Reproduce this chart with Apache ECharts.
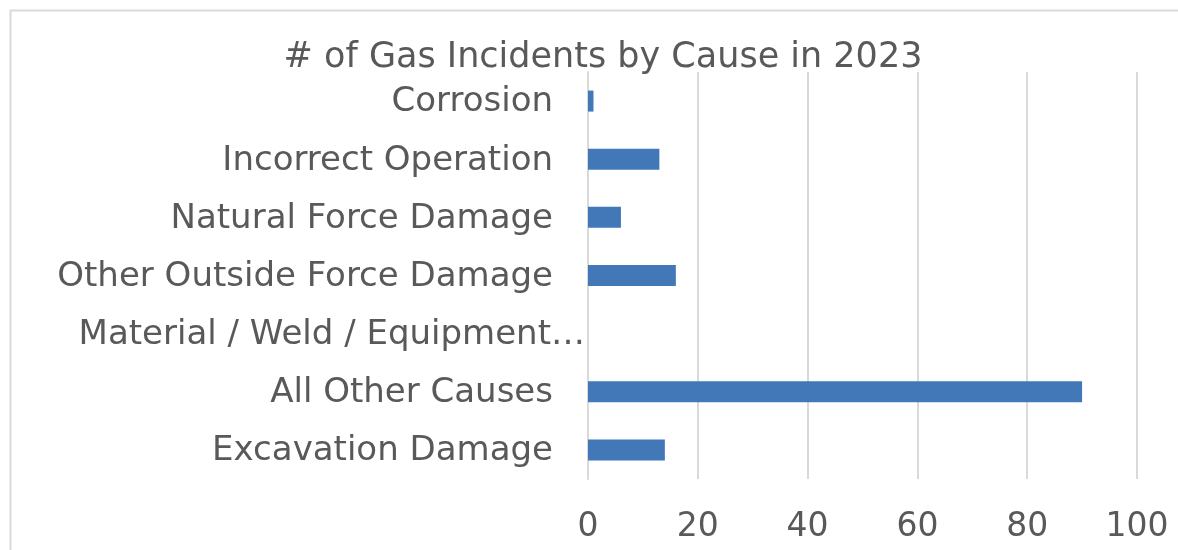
<!DOCTYPE html>
<html>
<head>
<meta charset="utf-8">
<script src="https://cdn.jsdelivr.net/npm/echarts@6/dist/echarts.min.js"></script>
<style>html,body{margin:0;padding:0;background:#fff}#c{width:1178px;height:550px}</style>
</head>
<body>
<div id="c"></div>
<script>
var categories = ["Excavation Damage", "All Other Causes", "Material / Weld / Equipment Failure", "Other Outside Force Damage", "Natural Force Damage", "Incorrect Operation", "Corrosion"];
var incidents = [14, 90, 0, 16, 6, 13, 1];
var xTicks = [0, 20, 40, 60, 80, 100];

var FONT = "DejaVu Sans";
var chart = echarts.init(document.getElementById('c'));
chart.setOption({
  animation: false,
  backgroundColor: '#ffffff',
  graphic: [{
    type: 'rect', left: 8, top: 8, z: -1,
    shape: {width: 1300, height: 700},
    style: {fill: 'none', stroke: '#d9d9d9', lineWidth: 2}
  }],
  title: {
    text: '# of Gas Incidents by Cause in 2023',
    left: 598, top: 35, textAlign: 'center',
    textStyle: {fontFamily: FONT, fontSize: 35, fontWeight: 'normal', color: '#595959'}
  },
  grid: {left: 588, right: 41, top: 72, bottom: 71, containLabel: false},
  xAxis: {
    type: 'value', min: xTicks[0], max: xTicks[xTicks.length - 1], interval: 20,
    axisLine: {show: false}, axisTick: {show: false},
    splitLine: {lineStyle: {color: '#d9d9d9', width: 2}},
    axisLabel: {fontFamily: FONT, fontSize: 33, color: '#595959', margin: 32}
  },
  yAxis: {
    type: 'category', data: categories,
    axisLine: {show: true, lineStyle: {color: '#d9d9d9', width: 2}},
    axisTick: {show: false},
    axisLabel: {
      fontFamily: FONT, fontSize: 34, color: '#595959', margin: 3,
      formatter: function (v) {
        if (v.indexOf('Material') === 0) return '{b|Material / Weld / Equipment…}';
        return '{a|' + v + '}';
      },
      rich: {
        a: {fontFamily: FONT, fontSize: 34, color: '#595959', padding: [3, 32, 0, 0]},
        b: {fontFamily: FONT, fontSize: 34, color: '#595959', padding: [3, 0, 0, 0]}
      }
    }
  },
  series: [{
    type: 'bar', data: incidents, barWidth: 21,
    itemStyle: {color: '#4277b8'}
  }]
});
</script>
</body>
</html>
